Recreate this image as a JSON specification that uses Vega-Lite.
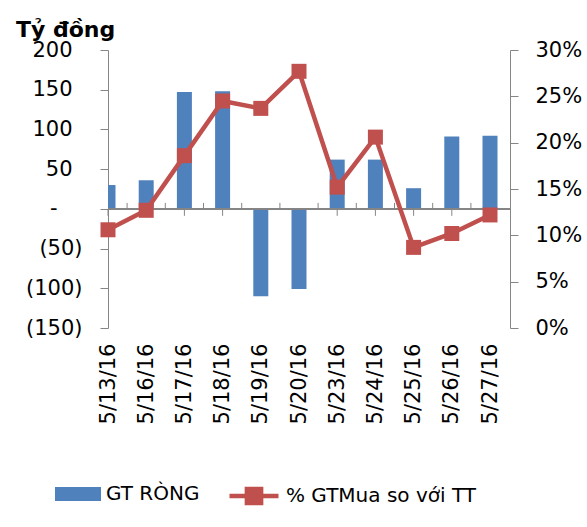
{
  "$schema": "https://vega.github.io/schema/vega-lite/v6.json",
  "width": 402,
  "height": 278,
  "autosize": {"type": "none"},
  "padding": {"left": 108, "top": 50, "right": 77, "bottom": 199},
  "background": "white",
  "title": {"text": "Tỷ đồng", "anchor": "start", "frame": "group", "dx": -92, "dy": 20, "offset": 0, "fontSize": 22, "fontWeight": "bold", "font": "DejaVu Sans", "color": "black", "baseline": "alphabetic"},
  "data": {"values": [
    {"date": "5/13/16", "gt": 30, "pct": 0.106},
    {"date": "5/16/16", "gt": 36, "pct": 0.127},
    {"date": "5/17/16", "gt": 147, "pct": 0.186},
    {"date": "5/18/16", "gt": 148, "pct": 0.245},
    {"date": "5/19/16", "gt": -110, "pct": 0.237},
    {"date": "5/20/16", "gt": -101, "pct": 0.277},
    {"date": "5/23/16", "gt": 62, "pct": 0.152},
    {"date": "5/24/16", "gt": 62, "pct": 0.206},
    {"date": "5/25/16", "gt": 26, "pct": 0.087},
    {"date": "5/26/16", "gt": 91, "pct": 0.102},
    {"date": "5/27/16", "gt": 92, "pct": 0.122}
  ]},
  "layer": [
    {
      "layer": [
        {
          "mark": {"type": "bar", "width": 15, "clip": true},
          "encoding": {
            "x": {"field": "date", "type": "ordinal", "sort": null, "title": null, "scale": {"type": "point", "range": [0, 382], "padding": 0}},
            "y": {
              "field": "gt", "type": "quantitative",
              "scale": {"domain": [-150, 200], "nice": false},
              "axis": {
                "orient": "left", "title": null, "grid": false,
                "values": [-150, -100, -50, 0, 50, 100, 150, 200],
                "labelOverlap": false, "labelFlush": false, "labelBound": false,
                "labelExpr": "datum.value == 0 ? '-' : datum.value < 0 ? '(' + format(-datum.value, 'd') + ')' : format(datum.value, 'd')",
                "labelPadding": {"condition": [{"test": "datum.value < 0", "value": 18}, {"test": "datum.value == 0", "value": 43}], "value": 28},
                "domainColor": "#868686", "tickColor": "#868686", "tickSize": 8,
                "labelFontSize": 21, "labelColor": "black"
              }
            },
            "y2": {"datum": 0},
            "fill": {
              "datum": "GT RÒNG",
              "scale": {"range": ["#4f81bd"]},
              "legend": {
                "orient": "none", "legendX": -53, "legendY": 421, "title": null, "padding": 0,
                "symbolType": "M-1,-0.3H1V0.3H-1Z", "symbolSize": 2116, "symbolStrokeWidth": 0,
                "labelFontSize": 20, "labelOffset": 5, "labelColor": "black", "labelFont": "DejaVu Sans", "labelLimit": 400
              }
            }
          }
        },
        {
          "mark": {"type": "rule", "color": "#868686", "strokeWidth": 1},
          "encoding": {"y": {"datum": 0, "type": "quantitative",
              "axis": {
                "orient": "left", "title": null, "grid": false,
                "values": [-150, -100, -50, 0, 50, 100, 150, 200],
                "labelOverlap": false, "labelFlush": false, "labelBound": false,
                "labelExpr": "datum.value == 0 ? '-' : datum.value < 0 ? '(' + format(-datum.value, 'd') + ')' : format(datum.value, 'd')",
                "labelPadding": {"condition": [{"test": "datum.value < 0", "value": 18}, {"test": "datum.value == 0", "value": 43}], "value": 28},
                "domainColor": "#868686", "tickColor": "#868686", "tickSize": 8,
                "labelFontSize": 21, "labelColor": "black"
              }}}
        },
        {
          "transform": [{"filter": "datum.gt >= 0"}],
          "mark": {"type": "rule", "color": "#868686", "strokeWidth": 1},
          "encoding": {
            "x": {"field": "date", "type": "ordinal", "sort": null, "title": null},
            "y": {"datum": 0, "type": "quantitative",
              "axis": {
                "orient": "left", "title": null, "grid": false,
                "values": [-150, -100, -50, 0, 50, 100, 150, 200],
                "labelOverlap": false, "labelFlush": false, "labelBound": false,
                "labelExpr": "datum.value == 0 ? '-' : datum.value < 0 ? '(' + format(-datum.value, 'd') + ')' : format(datum.value, 'd')",
                "labelPadding": {"condition": [{"test": "datum.value < 0", "value": 18}, {"test": "datum.value == 0", "value": 43}], "value": 28},
                "domainColor": "#868686", "tickColor": "#868686", "tickSize": 8,
                "labelFontSize": 21, "labelColor": "black"
              }},
            "y2": {"datum": -8.8}
          }
        },
        {
          "transform": [{"filter": "datum.date != '5/27/16'"}],
          "mark": {"type": "rule", "color": "#868686", "strokeWidth": 1, "xOffset": 19.1},
          "encoding": {
            "x": {"field": "date", "type": "ordinal", "sort": null, "title": null},
            "y": {"datum": 0, "type": "quantitative",
              "axis": {
                "orient": "left", "title": null, "grid": false,
                "values": [-150, -100, -50, 0, 50, 100, 150, 200],
                "labelOverlap": false, "labelFlush": false, "labelBound": false,
                "labelExpr": "datum.value == 0 ? '-' : datum.value < 0 ? '(' + format(-datum.value, 'd') + ')' : format(datum.value, 'd')",
                "labelPadding": {"condition": [{"test": "datum.value < 0", "value": 18}, {"test": "datum.value == 0", "value": 43}], "value": 28},
                "domainColor": "#868686", "tickColor": "#868686", "tickSize": 8,
                "labelFontSize": 21, "labelColor": "black"
              }},
            "y2": {"datum": 7.5}
          }
        }
      ]
    },
    {
      "mark": {"type": "line", "strokeWidth": 4.5, "point": {"shape": "square", "size": 225, "filled": true}},
      "encoding": {
        "x": {"field": "date", "type": "ordinal", "sort": null, "title": null},
        "y": {
          "field": "pct", "type": "quantitative",
          "scale": {"domain": [0, 0.3], "nice": false},
          "axis": {
            "orient": "right", "title": null, "grid": false,
            "values": [0, 0.05, 0.1, 0.15, 0.2, 0.25, 0.3], "format": ".0%",
            "labelOverlap": false, "labelFlush": false, "labelBound": false,
            "domainColor": "#868686", "tickColor": "#868686", "tickSize": 8,
            "labelPadding": 17, "labelFontSize": 21, "labelColor": "black"
          }
        },
        "color": {
          "datum": "% GTMua so với TT",
          "scale": {"range": ["#c0504d"]},
          "legend": {
            "orient": "none", "legendX": 119, "legendY": 419, "title": null, "padding": 0,
            "symbolType": "M-1,0H1M-0.29,-0.29H0.29V0.29H-0.29Z", "symbolSize": 2401,
            "symbolStrokeWidth": 4.5, "symbolFillColor": "#c0504d", "symbolStrokeColor": "#c0504d",
            "labelFontSize": 20, "labelOffset": 5, "labelColor": "black", "labelFont": "DejaVu Sans", "labelLimit": 400,
            "encode": {"symbols": {"update": {"fill": {"value": "#c0504d"}, "stroke": {"value": "#c0504d"}}}}
          }
        }
      }
    }
  ],
  "resolve": {"scale": {"y": "independent"}},
  "config": {
    "font": "DejaVu Sans",
    "view": {"stroke": null},
    "axis": {"labelFont": "DejaVu Sans", "labelColor": "black", "labelOverlap": false},
    "axisX": {"labelAngle": -90, "labelPadding": 15, "ticks": false, "domain": false, "grid": false, "labelFontSize": 21, "labelColor": "black"}
  }
}
